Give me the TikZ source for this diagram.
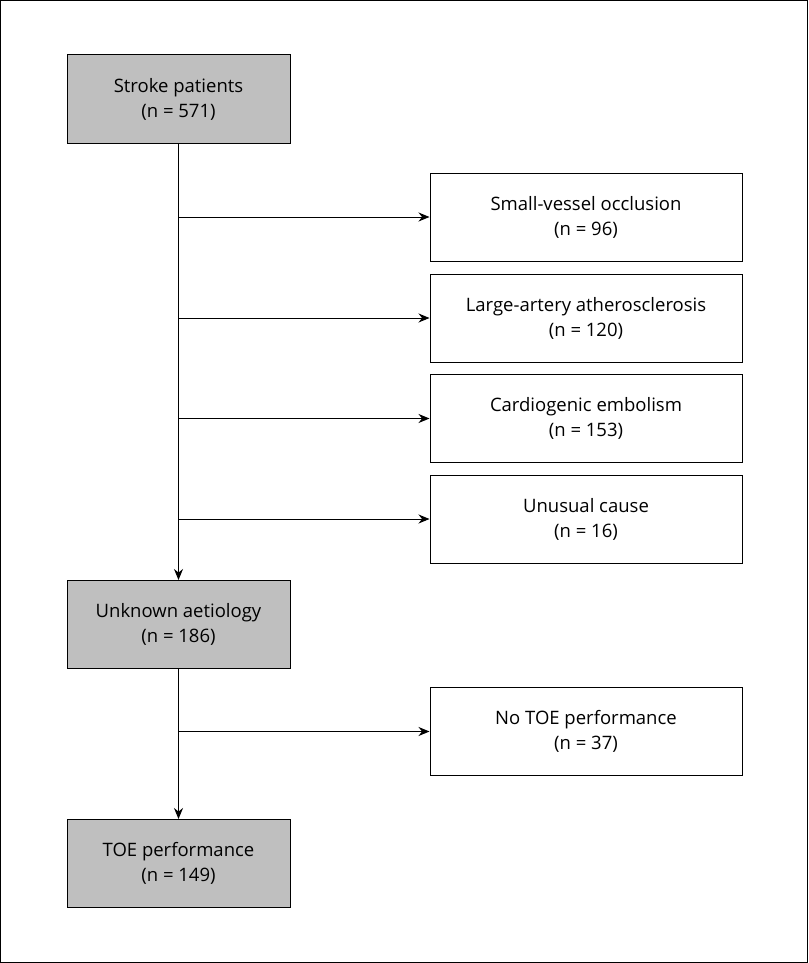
\documentclass[tikz,border=0pt]{standalone}
\usepackage{fontspec}
\setmainfont{Open Sans}
\usetikzlibrary{arrows.meta}

\begin{document}
\begin{tikzpicture}[
        x=1pt,
        y=-1pt,
        block/.style={
            rectangle,
            draw,
            fill=white,
            text centered,
            line width=1pt,
            minimum width=312pt,
            minimum height=88pt,
            align=center,
            font=\fontsize{18.5}{25}\selectfont
        },
        main/.style={
            block,
            fill=black!25,
            minimum width=223pt
        },
        line/.style={
            draw,
            line width=1pt,
            -{Stealth[length=11pt,width=9pt]}
        },
      ]
        \draw [line width=1pt,fill=white] (0.5,0.5) rectangle (807.5,962.5);
        \useasboundingbox (0,0) rectangle (808,963);
        \node [main] (stroke) at (178.5,99) {Stroke patients\\(n = 571)};
        \node [block] (small-vessel) at (586,217) {Small-vessel occlusion\\(n = 96)};
        \node [block] (large-artery) at (586,318) {Large-artery atherosclerosis\\(n = 120)};
        \node [block] (cardiogenic) at (586,418.5) {Cardiogenic embolism\\(n = 153)};
        \node [block] (unusual) at (586,519) {Unusual cause\\(n = 16)};
        \node [main] (unknown) at (178.5,624.5) {Unknown aetiology\\(n = 186)};
        \node [block] (no-toe) at (586,731.5) {No TOE performance\\(n = 37)};
        \node [main] (toe) at (178.5,863.5) {TOE performance\\(n = 149)};
        \path [line] (stroke) -- (unknown);
        \path [line] (stroke.south |- small-vessel) -- (small-vessel);
        \path [line] (stroke.south |- large-artery) -- (large-artery);
        \path [line] (stroke.south |- cardiogenic) -- (cardiogenic);
        \path [line] (stroke.south |- unusual) -- (unusual);
        \path [line] (unknown) -- (toe);
        \path [line] (unknown.south |- no-toe) -- (no-toe);
      \end{tikzpicture}
\end{document}
